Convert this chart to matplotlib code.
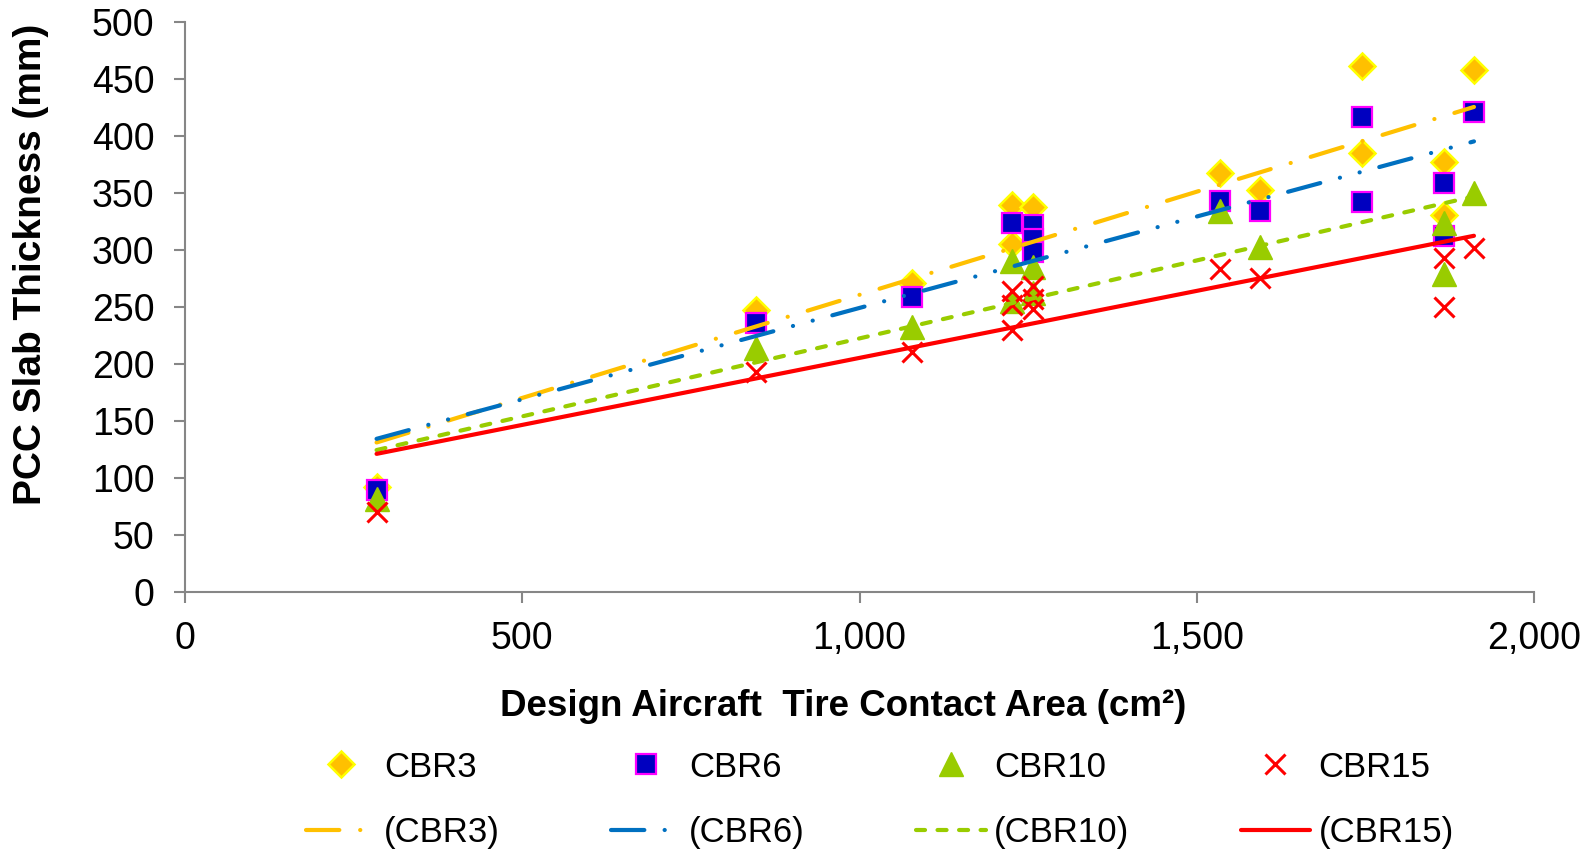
import numpy as np
import matplotlib
matplotlib.use('Agg')
import matplotlib.pyplot as plt
from matplotlib.ticker import StrMethodFormatter

plt.rcParams['font.family'] = ['Liberation Sans', 'DejaVu Sans']
plt.rcParams['lines.scale_dashes'] = False

# Tire contact area (cm2) and slab thickness (mm) per subgrade CBR
area_cbr3 = [284, 846, 1078, 1226, 1226, 1257, 1535, 1594, 1745, 1745, 1866, 1866, 1911]
thick_cbr3 = [92, 247, 271, 340, 305, 338, 368, 353, 462, 385, 377, 331, 458]

area_cbr6 = [284, 846, 1078, 1226, 1257, 1257, 1257, 1535, 1594, 1745, 1745, 1866, 1866, 1911]
thick_cbr6 = [89, 236, 259, 324, 322, 310, 298, 343, 334, 417, 342, 359, 312, 421]

area_cbr10 = [284, 846, 1078, 1226, 1226, 1257, 1257, 1535, 1594, 1866, 1866, 1911]
thick_cbr10 = [81, 214, 232, 290, 255, 285, 262, 334, 303, 324, 279, 350]

area_cbr15 = [284, 846, 1078, 1226, 1226, 1226, 1257, 1257, 1257, 1535, 1594, 1866, 1866, 1911]
thick_cbr15 = [70, 193, 210, 264, 252, 230, 268, 257, 248, 283, 275, 293, 250, 302]

labels = ['CBR3', 'CBR6', 'CBR10', 'CBR15']

fig = plt.figure(figsize=(15.96, 8.5), dpi=100)
ax = fig.add_axes([185 / 1596, 1 - 591.5 / 850, (1534 - 185) / 1596, (591.5 - 22.4) / 850])

series = [
    (area_cbr3, thick_cbr3, dict(marker='D', ms=13, mfc='#FFC000', mec='#FFFF00', mew=1.8),
     dict(color='#FFC000', ls=(0, (24, 15, 0.1, 15)))),
    (area_cbr6, thick_cbr6, dict(marker='s', ms=15, mfc='#0000C0', mec='#FF00FF', mew=1.6),
     dict(color='#0070C0', ls=(0, (24, 14.6, 0.1, 14.6, 0.1, 14.6)))),
    (area_cbr10, thick_cbr10, dict(marker='^', ms=17, mfc='#99CC00', mec='#99CC00', mew=1),
     dict(color='#99CC00', ls=(0, (6.5, 9)))),
    (area_cbr15, thick_cbr15, dict(marker='x', ms=14, mec='#FF0000', mew=2.2),
     dict(color='#FF0000', ls='-')),
]

point_handles = []
trend_handles = []
for i, (xs, ys, mstyle, lstyle) in enumerate(series):
    xs = np.array(xs, dtype=float)
    ys = np.array(ys, dtype=float)
    h, = ax.plot(xs, ys, ls='none', zorder=3 + i, **mstyle)
    point_handles.append(h)
    # linear trendline over the data range
    slope, icept = np.polyfit(xs, ys, 1)
    tx = np.array([xs.min(), xs.max()])
    t, = ax.plot(tx, slope * tx + icept, lw=3, dash_capstyle='round',
                 solid_capstyle='round', zorder=8 + i, **lstyle)
    trend_handles.append(t)

ax.set_xlim(0, 2000)
ax.set_ylim(0, 500)
ax.set_xticks(np.arange(0, 2001, 500))
ax.set_yticks(np.arange(0, 501, 50))
ax.xaxis.set_major_formatter(StrMethodFormatter('{x:,.0f}'))

for side in ['top', 'right']:
    ax.spines[side].set_visible(False)
for side in ['left', 'bottom']:
    ax.spines[side].set_color('#868686')
    ax.spines[side].set_linewidth(1.5)
ax.tick_params(axis='both', direction='out', length=8, width=1.5, color='#868686',
               labelsize=27, labelcolor='black')
ax.tick_params(axis='y', pad=14)
ax.tick_params(axis='x', pad=13)

fig.text(31 / 1596, 1 - 264 / 850, 'PCC Slab Thickness (mm)', rotation=90,
         ha='center', va='center', fontsize=28, fontweight='bold')
fig.text(843 / 1596, 1 - 706 / 850, 'Design Aircraft  Tire Contact Area (cm\u00b2)',
         ha='center', va='center', fontsize=26.5, fontweight='bold')

handles = []
leg_labels = []
for i in range(4):
    handles += [point_handles[i], trend_handles[i]]
    leg_labels += [labels[i], '(' + labels[i] + ')']

fig.legend(handles, leg_labels, ncol=4, loc='center', bbox_to_anchor=(880 / 1596, 1 - 800 / 850),
           frameon=False, fontsize=25, handlelength=2.0, handletextpad=0.25,
           columnspacing=3.2, labelspacing=0.95, borderpad=0)

fig.savefig('out.png', dpi=100)
